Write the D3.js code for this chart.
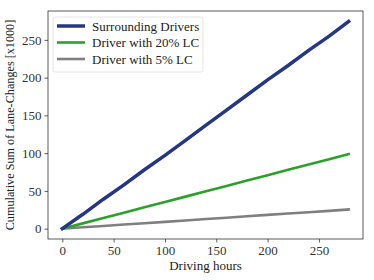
<!DOCTYPE html>
<html>
<head>
<meta charset="utf-8">
<script src="https://cdn.jsdelivr.net/npm/d3@7"></script>
<style>
  body { margin: 0; background: #fff; }
</style>
</head>
<body>
<div id="chart"></div>
<script>
// data
var hours = [0, 20, 40, 60, 80, 100, 120, 140, 160, 180, 200, 220, 240, 260, 279];
var surrounding = [0, 19, 39, 58, 78, 97, 117, 137, 157, 177, 197, 216, 236, 255, 274.5];
var driver20 = [0, 7, 14, 21, 28.2, 35.3, 42.4, 49.5, 56.6, 63.7, 70.8, 77.9, 85, 92, 98.7];
var driver5 = [0, 1.8, 3.6, 5.4, 7.2, 9, 10.9, 12.7, 14.5, 16.4, 18.2, 20, 21.8, 23.6, 25.4];
var xTicks = [0, 50, 100, 150, 200, 250];
var yTicks = [0, 50, 100, 150, 200, 250];
var seriesNames = ["Surrounding Drivers", "Driver with 20% LC", "Driver with 5% LC"];
var seriesColors = ["#26367f", "#2ca02c", "#7f7f7f"];

var font = "Liberation Serif";

var svgWidth = 374;
var svgHeight = 280;
var margin = { top: 11, right: 11, bottom: 41, left: 48 };
var width = svgWidth - margin.left - margin.right;
var height = svgHeight - margin.top - margin.bottom;

var svg = d3.select("#chart").append("svg")
  .attr("width", svgWidth)
  .attr("height", svgHeight)
  .attr("font-family", font);

var chartGroup = svg.append("g")
  .attr("transform", `translate(${margin.left}, ${margin.top})`);

var xScale = d3.scaleLinear().domain([-13.95, 292.95]).range([0, width]);
var yScale = d3.scaleLinear().domain([-13.7, 288.2]).range([height, 0]);

// axes
var bottomAxis = d3.axisBottom(xScale).tickValues(xTicks).tickSize(3.5).tickPadding(3);
var leftAxis = d3.axisLeft(yScale).tickValues(yTicks).tickSize(3.5).tickPadding(3);

var gx = chartGroup.append("g")
  .attr("transform", `translate(0, ${height})`)
  .call(bottomAxis);
var gy = chartGroup.append("g").call(leftAxis);

[gx, gy].forEach(function(g) {
  g.attr("font-family", font).attr("font-size", 13);
  g.select(".domain").remove();
  g.selectAll("line").attr("stroke", "#333").attr("stroke-width", 0.8);
  g.selectAll("text").attr("fill", "#333");
});

// lines
var allSeries = [surrounding, driver20, driver5];
var widths = [3.5, 2.6, 2.6];
var line = d3.line()
  .x((d, i) => xScale(hours[i]))
  .y(d => yScale(d));

// draw bottom series first so the blue line sits on top
for (var k = allSeries.length - 1; k >= 0; k--) {
  chartGroup.append("path")
    .datum(allSeries[k])
    .attr("fill", "none")
    .attr("stroke", seriesColors[k])
    .attr("stroke-width", widths[k])
    .attr("stroke-linecap", "square")
    .attr("d", line);
}

// frame
chartGroup.append("rect")
  .attr("width", width)
  .attr("height", height)
  .attr("fill", "none")
  .attr("stroke", "#333")
  .attr("stroke-width", 0.8);

// legend
var legend = chartGroup.append("g").attr("transform", "translate(5, 6)");
legend.append("rect")
  .attr("width", 150)
  .attr("height", 55)
  .attr("rx", 2.5)
  .attr("fill", "#fff")
  .attr("fill-opacity", 0.8)
  .attr("stroke", "#ddd")
  .attr("stroke-width", 0.8);

seriesNames.forEach(function(name, i) {
  var y = 9 + i * 16.5;
  legend.append("line")
    .attr("x1", 4).attr("x2", 32)
    .attr("y1", y).attr("y2", y)
    .attr("stroke", seriesColors[i])
    .attr("stroke-width", widths[i]);
  legend.append("text")
    .attr("x", 39)
    .attr("y", y)
    .attr("dy", "0.35em")
    .attr("font-family", font)
    .attr("font-size", 13)
    .attr("fill", "#222")
    .text(name);
});

// axis labels
chartGroup.append("text")
  .attr("x", width / 2)
  .attr("y", height + 31)
  .attr("text-anchor", "middle")
  .attr("font-family", font)
  .attr("font-size", 13)
  .attr("fill", "#222")
  .text("Driving hours");

chartGroup.append("text")
  .attr("transform", "rotate(-90)")
  .attr("x", -height / 2)
  .attr("y", -margin.left + 14)
  .attr("text-anchor", "middle")
  .attr("font-family", font)
  .attr("font-size", 12.2)
  .attr("fill", "#222")
  .text("Cumulative Sum of Lane-Changes [x1000]");
</script>
</body>
</html>
